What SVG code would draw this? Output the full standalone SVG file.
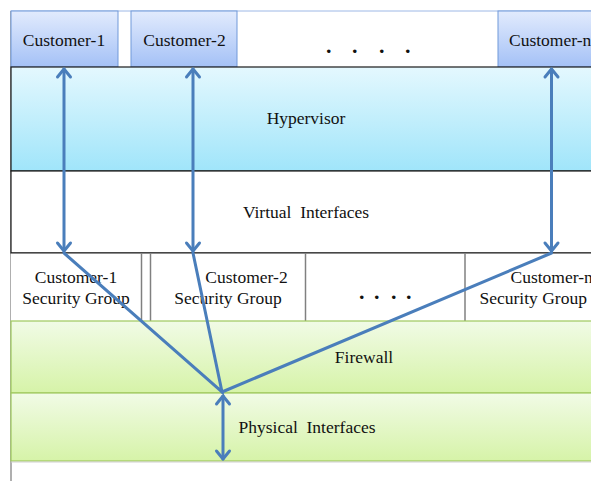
<svg xmlns="http://www.w3.org/2000/svg" width="591" height="481" viewBox="0 0 591 481">
  <defs>
    <linearGradient id="gCust" x1="0" y1="0" x2="0" y2="1">
      <stop offset="0" stop-color="#e2ebfd"/>
      <stop offset="1" stop-color="#a4c1f6"/>
    </linearGradient>
    <linearGradient id="gHyp" x1="0" y1="0" x2="0" y2="1">
      <stop offset="0" stop-color="#e4f8fe"/>
      <stop offset="1" stop-color="#a0e5fa"/>
    </linearGradient>
    <linearGradient id="gGreen" x1="0" y1="0" x2="0" y2="1">
      <stop offset="0" stop-color="#f1fbe6"/>
      <stop offset="1" stop-color="#d6f3a8"/>
    </linearGradient>
    <marker id="head" markerUnits="userSpaceOnUse" markerWidth="20" markerHeight="20" viewBox="-12 -10 14 20" refX="0" refY="0" orient="auto-start-reverse">
      <path d="M-8,-6.5 L0,0 L-8,6.5" fill="none" stroke="#4a7ebb" stroke-width="3" stroke-linecap="round" stroke-linejoin="round"/>
    </marker>
  </defs>
  <style>
    text { font-family: "Liberation Serif", "DejaVu Serif", serif; font-size: 17.5px; fill: #111; }
    .mid { text-anchor: middle; }
    .dots { font-size: 22px; font-weight: bold; }
    .cust { fill: url(#gCust); stroke: #7199d9; stroke-width: 1; }
    .green { fill: url(#gGreen); stroke: #9fc95e; stroke-width: 1.2; }
    .sep { stroke: #808080; stroke-width: 1.5; }
    .conn { stroke: #4a7ebb; stroke-width: 3; fill: none; stroke-linecap: round; }
  </style>

  <rect width="591" height="481" fill="#ffffff"/>

  <!-- outer frame: top edge and left edge -->
  <line x1="11" y1="11" x2="591" y2="11" stroke="#9db8e6" stroke-width="1"/>
  <line x1="11" y1="11" x2="11" y2="481" stroke="#7a7a7a" stroke-width="1.2"/>

  <g id="customers-row">
    <text class="dots" font-family="Liberation Serif, serif" x="326 335 352 361 379 388 405" y="53">. . . .</text>
  </g>

  <g id="customer-1">
    <rect class="cust" x="11" y="11" width="107" height="56"/>
    <text class="mid" font-family="Liberation Serif, serif" x="64" y="46">Customer-1</text>
  </g>
  <g id="customer-2">
    <rect class="cust" x="131" y="11" width="106" height="56"/>
    <text class="mid" font-family="Liberation Serif, serif" x="184.5" y="46">Customer-2</text>
  </g>
  <g id="customer-n">
    <rect class="cust" x="498" y="11" width="100" height="56"/>
    <text font-family="Liberation Serif, serif" x="509" y="46">Customer-n</text>
  </g>

  <g id="hypervisor">
    <rect x="11" y="67" width="590" height="104" fill="url(#gHyp)" stroke="#1a1a1a" stroke-width="1.2"/>
    <text class="mid" font-family="Liberation Serif, serif" x="306" y="124">Hypervisor</text>
  </g>

  <g id="virtual-interfaces">
    <rect x="11" y="171" width="590" height="82" fill="#ffffff" stroke="#1a1a1a" stroke-width="1.2"/>
    <text class="mid" font-family="Liberation Serif, serif" x="306" y="218" xml:space="preserve" style="white-space:pre">Virtual  Interfaces</text>
  </g>

  <g id="security-groups">
    <rect x="11" y="253" width="590" height="68" fill="#ffffff" stroke="none"/>
    <line x1="11" y1="253" x2="591" y2="253" stroke="#1a1a1a" stroke-width="1.2"/>
    <line class="sep" x1="141.5" y1="253" x2="141.5" y2="321"/>
    <line class="sep" x1="150.5" y1="253" x2="150.5" y2="321"/>
    <line class="sep" x1="305.5" y1="253" x2="305.5" y2="321"/>
    <line class="sep" x1="465" y1="253" x2="465" y2="321"/>
    <text class="mid" font-family="Liberation Serif, serif" x="76" y="283">Customer-1</text>
    <text class="mid" font-family="Liberation Serif, serif" x="76" y="304">Security Group</text>
    <text class="mid" font-family="Liberation Serif, serif" x="246.5" y="283">Customer-2</text>
    <text class="mid" font-family="Liberation Serif, serif" x="228" y="304">Security Group</text>
    <text class="dots" font-family="Liberation Serif, serif" x="359 367 374 382 391 399 406" y="299">. . . .</text>
    <text font-family="Liberation Serif, serif" x="510.5" y="283">Customer-n</text>
    <text font-family="Liberation Serif, serif" x="479.5" y="304">Security Group</text>
  </g>

  <g id="firewall">
    <rect class="green" x="11" y="321" width="590" height="72"/>
    <text class="mid" font-family="Liberation Serif, serif" x="364" y="363">Firewall</text>
  </g>

  <g id="physical-interfaces">
    <rect class="green" x="11" y="393" width="590" height="68"/>
    <line x1="11" y1="462" x2="591" y2="462" stroke="#d0d0d0" stroke-width="1"/>
    <text class="mid" font-family="Liberation Serif, serif" x="307" y="433" xml:space="preserve" style="white-space:pre">Physical  Interfaces</text>
  </g>

  <g id="connectors">
    <line class="conn" x1="64" y1="69" x2="64" y2="251" marker-start="url(#head)" marker-end="url(#head)"/>
    <line class="conn" x1="193" y1="69" x2="193" y2="251" marker-start="url(#head)" marker-end="url(#head)"/>
    <line class="conn" x1="551.5" y1="69" x2="551.5" y2="251" marker-start="url(#head)" marker-end="url(#head)"/>
    <polyline class="conn" points="64,253 222,392 193,253"/>
    <line class="conn" x1="222" y1="392" x2="551.5" y2="253"/>
    <line class="conn" x1="223" y1="396" x2="223" y2="459" marker-start="url(#head)" marker-end="url(#head)"/>
  </g>
</svg>
